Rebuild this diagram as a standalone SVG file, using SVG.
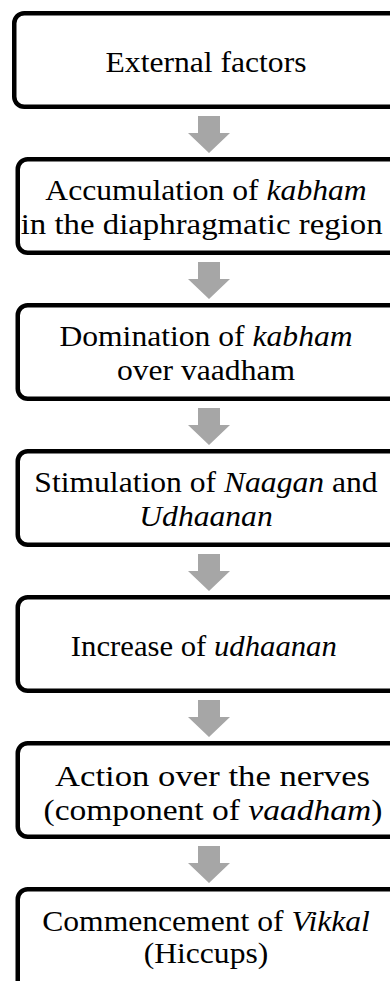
<svg xmlns="http://www.w3.org/2000/svg" width="390" height="981" viewBox="0 0 390 981">
<style>
.box{fill:#ffffff;stroke:#000000;stroke-width:4.5}
.arr{fill:#a6a6a6}
.t{font-family:'Liberation Serif',serif;font-size:29px;fill:#000000;text-anchor:middle}
.i{font-style:italic}
</style>
<rect width="390" height="981" fill="#ffffff"/>
<g id="connectors">
<polygon class="arr" points="198,116 220,116 220,133 230,133 209,153 188,133 198,133"/>
<polygon class="arr" points="198,262 220,262 220,279 230,279 209,299 188,279 198,279"/>
<polygon class="arr" points="198,408 220,408 220,425 230,425 209,445 188,425 198,425"/>
<polygon class="arr" points="198,554 220,554 220,571 230,571 209,591 188,571 198,571"/>
<polygon class="arr" points="198,700 220,700 220,717 230,717 209,737 188,717 198,717"/>
<polygon class="arr" points="198,846 220,846 220,863 230,863 209,883 188,863 198,863"/>
</g>
<g id="n1">
<rect class="box" x="14.25" y="13.25" width="390" height="93.5" rx="10"/>
<g transform="matrix(1.09 0 0 1 -18.54 0)"><text class="t" x="206" y="72.5">External factors</text></g>
</g>
<g id="n2">
<rect class="box" x="17.75" y="159.25" width="390" height="93.5" rx="10"/>
<g transform="matrix(1.09 0 0 1 -18.54 0)"><text class="t" x="206" y="200.5">Accumulation of <tspan class="i">kabham</tspan></text>
<text class="t" x="202" y="234" textLength="332" lengthAdjust="spacingAndGlyphs">in the diaphragmatic region</text></g>
</g>
<g id="n3">
<rect class="box" x="17.75" y="305.25" width="390" height="93.5" rx="10"/>
<g transform="matrix(1.09 0 0 1 -18.54 0)"><text class="t" x="206" y="346.5">Domination of <tspan class="i">kabham</tspan></text>
<text class="t" x="206" y="380">over vaadham</text></g>
</g>
<g id="n4">
<rect class="box" x="17.75" y="451.25" width="390" height="93.5" rx="10"/>
<g transform="matrix(1.09 0 0 1 -18.54 0)"><text class="t" x="206" y="492.5">Stimulation of <tspan class="i">Naagan</tspan> and</text>
<text class="t i" x="206" y="526">Udhaanan</text></g>
</g>
<g id="n5">
<rect class="box" x="17.75" y="597.25" width="390" height="93.5" rx="10"/>
<g transform="matrix(1.09 0 0 1 -18.54 0)"><text class="t" x="204" y="656" textLength="244" lengthAdjust="spacingAndGlyphs">Increase of <tspan class="i">udhaanan</tspan></text></g>
</g>
<g id="n6">
<rect class="box" x="17.75" y="743.25" width="390" height="93.5" rx="10"/>
<g transform="matrix(1.09 0 0 1 -18.54 0)"><text class="t" x="212" y="786.5" textLength="289" lengthAdjust="spacingAndGlyphs">Action over the nerves</text>
<text class="t" x="212.4" y="820" textLength="311" lengthAdjust="spacingAndGlyphs">(component of <tspan class="i">vaadham</tspan>)</text></g>
</g>
<g id="n7">
<rect class="box" x="17.75" y="889.25" width="390" height="110" rx="10"/>
<g transform="matrix(1.09 0 0 1 -18.54 0)"><text class="t" x="206" y="931.5">Commencement of <tspan class="i">Vikkal</tspan></text>
<text class="t" x="206" y="963.5">(Hiccups)</text></g>
</g>
</svg>
